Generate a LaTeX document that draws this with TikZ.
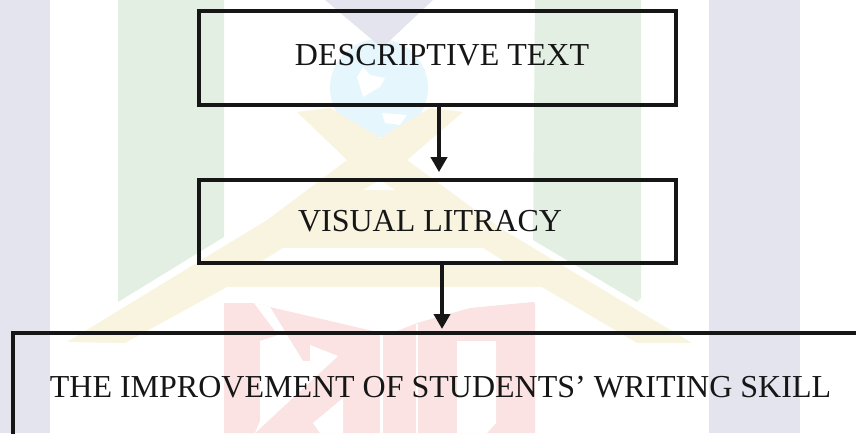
\documentclass[tikz,border=0pt]{standalone}
\usepackage{fontspec}
\setmainfont{Liberation Serif}
\usetikzlibrary{arrows.meta}
\definecolor{wmlav}{HTML}{E4E4EE}
\definecolor{wmgreen}{HTML}{E4EFE3}
\definecolor{wmblue}{HTML}{E6F6FD}
\definecolor{wmyellow}{HTML}{F8F4E0}
\definecolor{wmred}{HTML}{FBE3E3}
\definecolor{ink}{HTML}{161616}
\tikzset{
  flowbox/.style={draw=ink,line width=2.8pt,rectangle,inner sep=0pt},
  boxtext/.style={anchor=base,inner sep=0pt,text=ink,font=\fontsize{24pt}{28pt}\selectfont},
  flowarrow/.style={draw=ink,line width=3pt,-{Triangle[width=12pt,length=11.25pt]}}
}
\begin{document}
\begin{tikzpicture}[x=0.75pt,y=-0.75pt]
\useasboundingbox (0,0) rectangle (856,433);
\begin{scope}
\clip (0,0) rectangle (856,433);
% watermark
\fill[wmlav] (0,0) rectangle (50,433);
\fill[wmlav] (709,0) rectangle (800,433);
\fill[wmgreen] (118,0) -- (224,0) -- (224,237) -- (118,302) -- cycle;
\fill[wmgreen] (535,0) -- (641,0) -- (641,298) -- (637,302) -- (533,240) -- cycle;
\fill[wmblue] (379,88) circle[radius=49];
\fill[white] (357,77) -- (363,97) -- (380,87) -- (385,78) -- (370,75) -- (363,67) -- cycle;
\fill[white] (382,113) -- (407,115) -- (400,125) -- (385,123) -- cycle;
\fill[wmlav] (325,0) -- (433,0) -- (382,48) -- cycle;
\fill[wmyellow] (297,112) -- (330,108) -- (380,138) -- (430,108) -- (463,112) -- (407,160)
  -- (500,228) -- (692,343) -- (637,343) -- (542,287) -- (227,287) -- (125,343) -- (67,342)
  -- (267,220) -- (347,160) -- cycle;
\fill[white] (363,190) -- (380,180) -- (395,190) -- cycle;
\fill[white] (283,248) -- (483,248) -- (507,263) -- (259,263) -- cycle;
\fill[wmred] (224,303) -- (254,303) -- (270,307) -- (373,331) -- (381,333) -- (395,332)
  -- (417,323) -- (470,308) -- (533,302) -- (535,303) -- (535,433) -- (224,433) -- cycle;
\fill[white] (254,303) -- (270,307) -- (303,361) -- (310,361) -- (310,345) -- (338,356)
  -- (255,433) -- (260,421) -- (260,341) -- (278,335) -- cycle;
\fill[white] (343,398) -- (313,423) -- (320,433) -- (343,433) -- cycle;
\fill[white] (380,333) rectangle (382.5,433);
\fill[white] (416,324) rectangle (418,433);
\fill[white] (457,341) -- (496,341) -- (496,423) -- (487,433) -- (457,433) -- cycle;
% boxes
\node[flowbox,minimum width=357.75pt,minimum height=70.5pt] (descbox) at (437.5,58) {};
\node[flowbox,minimum width=357.75pt,minimum height=62.25pt] (visualbox) at (437.5,221.5) {};
\node[flowbox,anchor=north west,minimum width=660pt,minimum height=100pt] (skillbox) at (11,331) {};
% texts
\node[boxtext] (desctext) at (442,65) {DESCRIPTIVE TEXT};
\node[boxtext] (visualtext) at (430,231) {VISUAL LITRACY};
\node[boxtext] (skilltext) at (440.5,397) {THE IMPROVEMENT OF STUDENTS’ WRITING SKILL};
% connectors
\coordinate (upper) at (439,0);
\coordinate (lower) at (442,0);
\draw[flowarrow,shorten >=4.5pt] (descbox.south -| upper) -- (visualbox.north -| upper);
\draw[flowarrow,shorten >=1.5pt] (visualbox.south -| lower) -- (skillbox.north -| lower);
\end{scope}
\end{tikzpicture}
\end{document}
